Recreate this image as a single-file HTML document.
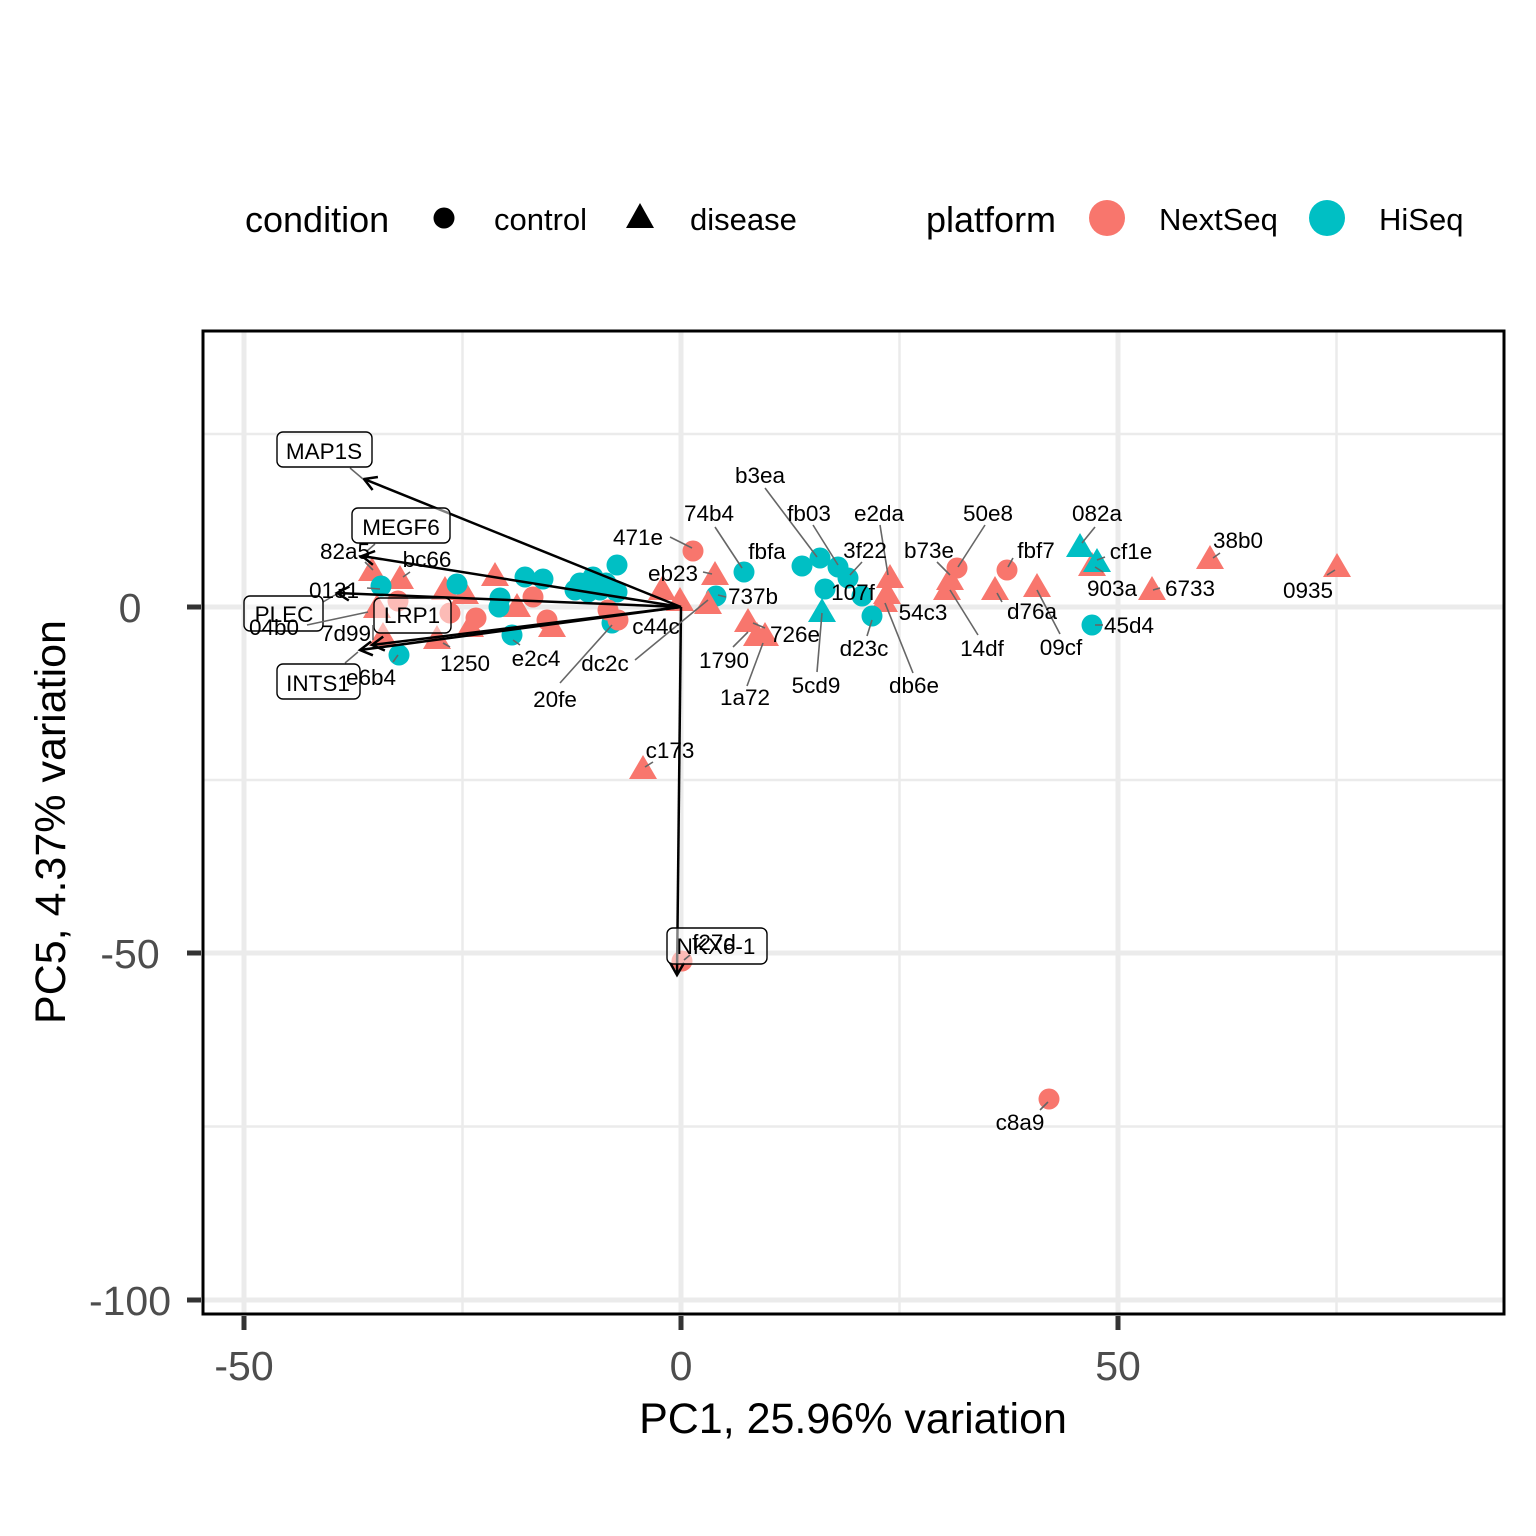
<!DOCTYPE html>
<html><head><meta charset="utf-8"><style>
html,body{margin:0;padding:0;background:#fff;}
svg{display:block;font-family:"Liberation Sans",Arial,sans-serif;}
</style></head><body>
<svg width="1536" height="1536" viewBox="0 0 1536 1536" xmlns="http://www.w3.org/2000/svg">
<rect width="1536" height="1536" fill="#fff"/>
<!-- legend -->
<g font-family="Liberation Sans, Arial, sans-serif" fill="#000">
<text x="245" y="232" font-size="36">condition</text>
<circle cx="444" cy="218" r="10.5" fill="#000"/>
<text x="494" y="230" font-size="31">control</text>
<polygon points="640,203 654,228 626,228" fill="#000"/>
<text x="690" y="230" font-size="31">disease</text>
<text x="926" y="232" font-size="36">platform</text>
<circle cx="1107" cy="218" r="18" fill="#F8766D"/>
<text x="1159" y="230" font-size="31">NextSeq</text>
<circle cx="1327" cy="218" r="18" fill="#00BFC4"/>
<text x="1379" y="230" font-size="31">HiSeq</text>
</g>
<!-- grid -->
<g stroke="#EBEBEB">
<line x1="462.5" y1="331" x2="462.5" y2="1314" stroke-width="2.5"/>
<line x1="899.5" y1="331" x2="899.5" y2="1314" stroke-width="2.5"/>
<line x1="1336.5" y1="331" x2="1336.5" y2="1314" stroke-width="2.5"/>
<line x1="203" y1="434" x2="1504" y2="434" stroke-width="2.5"/>
<line x1="203" y1="780" x2="1504" y2="780" stroke-width="2.5"/>
<line x1="203" y1="1126.5" x2="1504" y2="1126.5" stroke-width="2.5"/>
<line x1="244" y1="331" x2="244" y2="1314" stroke-width="5"/>
<line x1="681" y1="331" x2="681" y2="1314" stroke-width="5"/>
<line x1="1118" y1="331" x2="1118" y2="1314" stroke-width="5"/>
<line x1="203" y1="607" x2="1504" y2="607" stroke-width="5"/>
<line x1="203" y1="953" x2="1504" y2="953" stroke-width="5"/>
<line x1="203" y1="1300" x2="1504" y2="1300" stroke-width="5"/>
</g>
<!-- points pink -->
<g fill="#F8766D">
<polygon points="372,557 386,581 358,581"/>
<polygon points="400,565 414,589 386,589"/>
<polygon points="377,594 391,618 363,618"/>
<polygon points="383,622 397,646 369,646"/>
<polygon points="445,576 459,600 431,600"/>
<polygon points="465,580 479,604 451,604"/>
<polygon points="437,625 451,649 423,649"/>
<polygon points="470,613 484,637 456,637"/>
<polygon points="495,562 509,586 481,586"/>
<polygon points="517,593 531,617 503,617"/>
<polygon points="552,613 566,637 538,637"/>
<polygon points="662,576 676,600 648,600"/>
<polygon points="680,587 694,611 666,611"/>
<polygon points="715,561 729,585 701,585"/>
<polygon points="748,608 762,632 734,632"/>
<polygon points="757,622 771,646 743,646"/>
<polygon points="765,622 779,646 751,646"/>
<polygon points="890,564 904,588 876,588"/>
<polygon points="887,580 901,604 873,604"/>
<polygon points="884,588 898,612 870,612"/>
<polygon points="950,566 964,590 936,590"/>
<polygon points="947,576 961,600 933,600"/>
<polygon points="995,576 1009,600 981,600"/>
<polygon points="1037,573 1051,597 1023,597"/>
<polygon points="1092,552 1106,576 1078,576"/>
<polygon points="1152,576 1166,600 1138,600"/>
<polygon points="1210,545 1224,569 1196,569"/>
<polygon points="1337,553 1351,577 1323,577"/>
<polygon points="643,755 657,779 629,779"/>
<circle cx="398" cy="601" r="10.5"/>
<circle cx="450" cy="613" r="10.5"/>
<circle cx="476" cy="618" r="10.5"/>
<circle cx="533" cy="597" r="10.5"/>
<circle cx="547" cy="620" r="10.5"/>
<circle cx="693" cy="551" r="10.5"/>
<circle cx="957" cy="568" r="10.5"/>
<circle cx="1007" cy="570" r="10.5"/>
<circle cx="682" cy="961" r="10.5"/>
<circle cx="1049" cy="1099" r="10.5"/>
</g>
<!-- points teal -->
<g fill="#00BFC4">
<circle cx="381" cy="586" r="10.5"/>
<circle cx="399" cy="655" r="10.5"/>
<circle cx="457" cy="584" r="10.5"/>
<circle cx="525" cy="577" r="10.5"/>
<circle cx="543" cy="579" r="10.5"/>
<circle cx="500" cy="598" r="10.5"/>
<circle cx="499" cy="607" r="10.5"/>
<circle cx="512" cy="635" r="10.5"/>
<circle cx="617" cy="565" r="10.5"/>
<circle cx="593" cy="577" r="10.5"/>
<circle cx="580" cy="583" r="10.5"/>
<circle cx="575" cy="590" r="10.5"/>
<circle cx="588" cy="592" r="10.5"/>
<circle cx="600" cy="590" r="10.5"/>
<circle cx="617" cy="592" r="10.5"/>
<circle cx="606" cy="583" r="10.5"/>
<circle cx="612" cy="623" r="10.5"/>
<circle cx="744" cy="572" r="10.5"/>
<circle cx="716" cy="596" r="10.5"/>
<circle cx="802" cy="566" r="10.5"/>
<circle cx="820" cy="558" r="10.5"/>
<circle cx="838" cy="567" r="10.5"/>
<circle cx="848" cy="578" r="10.5"/>
<circle cx="825" cy="589" r="10.5"/>
<circle cx="862" cy="596" r="10.5"/>
<circle cx="872" cy="616" r="10.5"/>
<circle cx="1092" cy="625" r="10.5"/>
<polygon points="822,598 836,622 808,622"/>
<polygon points="1080,533 1094,557 1066,557"/>
<polygon points="1097,548 1111,572 1083,572"/>
</g>
<g fill="#F8766D">
<circle cx="608" cy="610" r="10.5"/>
<circle cx="618" cy="620" r="10.5"/>
<polygon points="708,590 722,614 694,614"/>
</g>
<!-- loadings arrows -->
<g stroke="#000" stroke-width="2.5" fill="none">
<line x1="681" y1="607" x2="364" y2="479"/>
<polyline points="372.6,490 364,479 377.9,477"/>
<line x1="681" y1="607" x2="362" y2="556"/>
<polyline points="372.9,564.8 362,556 375.1,551"/>
<line x1="681" y1="607" x2="337" y2="593"/>
<polyline points="348.8,600.5 337,593 349.4,586.5"/>
<line x1="681" y1="607" x2="372" y2="645"/>
<polyline points="384.9,650.5 372,645 383.2,636.6"/>
<line x1="681" y1="607" x2="360" y2="650"/>
<polyline points="372.9,655.3 360,650 371.1,641.5"/>
<line x1="681" y1="607" x2="677" y2="975"/>
<polyline points="684.1,962.9 677,975 670.1,962.8"/>
</g>
<!-- label boxes -->
<g stroke="#666" stroke-width="1.5">
<line x1="350" y1="468" x2="363" y2="479"/>
<line x1="375" y1="544" x2="367" y2="551"/>
<line x1="323" y1="602" x2="335" y2="595"/>
<line x1="345" y1="663" x2="358" y2="652"/>
</g>
<g stroke="#000" stroke-width="1.4" fill="#fff" fill-opacity="0.5">
<rect x="277" y="432" width="95" height="35" rx="6"/>
<rect x="352" y="508" width="98" height="35" rx="6"/>
<rect x="244" y="596" width="79" height="35" rx="6"/>
<rect x="374" y="598" width="77" height="35" rx="6"/>
<rect x="277" y="664" width="83" height="35" rx="6"/>
<rect x="667" y="928" width="100" height="36" rx="6"/>
</g>
<g font-size="22.5" text-anchor="middle" fill="#000">
<text x="324" y="459">MAP1S</text>
<text x="401" y="535">MEGF6</text>
<text x="284" y="622">PLEC</text>
<text x="412" y="623">LRP1</text>
<text x="318" y="691">INTS1</text>
<text x="716" y="954">NKX6-1</text>
</g>
<!-- point label segments -->
<g stroke="#666" stroke-width="1.6">
<line x1="765" y1="488" x2="817" y2="557"/>
<line x1="813" y1="525" x2="838" y2="565"/>
<line x1="880" y1="525" x2="888" y2="575"/>
<line x1="715" y1="527" x2="742" y2="568"/>
<line x1="670" y1="537" x2="692" y2="548"/>
<line x1="862" y1="562" x2="850" y2="575"/>
<line x1="703" y1="572" x2="712" y2="574"/>
<line x1="718" y1="595" x2="726" y2="597"/>
<line x1="913" y1="673" x2="885" y2="603"/>
<line x1="867" y1="636" x2="872" y2="620"/>
<line x1="817" y1="672" x2="822" y2="613"/>
<line x1="733" y1="647" x2="748" y2="632"/>
<line x1="747" y1="686" x2="763" y2="643"/>
<line x1="765" y1="628" x2="753" y2="623"/>
<line x1="985" y1="525" x2="958" y2="567"/>
<line x1="937" y1="562" x2="950" y2="575"/>
<line x1="978" y1="635" x2="950" y2="590"/>
<line x1="1013" y1="558" x2="1008" y2="567"/>
<line x1="1002" y1="602" x2="997" y2="593"/>
<line x1="1060" y1="634" x2="1037" y2="590"/>
<line x1="1095" y1="527" x2="1082" y2="543"/>
<line x1="1105" y1="557" x2="1097" y2="560"/>
<line x1="1103" y1="572" x2="1095" y2="567"/>
<line x1="1160" y1="588" x2="1153" y2="590"/>
<line x1="1220" y1="553" x2="1213" y2="558"/>
<line x1="1335" y1="570" x2="1327" y2="575"/>
<line x1="1103" y1="625" x2="1095" y2="625"/>
<line x1="365" y1="562" x2="373" y2="570"/>
<line x1="410" y1="572" x2="403" y2="577"/>
<line x1="367" y1="588" x2="380" y2="589"/>
<line x1="307" y1="625" x2="368" y2="612"/>
<line x1="373" y1="625" x2="373" y2="640"/>
<line x1="393" y1="662" x2="398" y2="655"/>
<line x1="443" y1="643" x2="450" y2="647"/>
<line x1="513" y1="640" x2="520" y2="645"/>
<line x1="560" y1="683" x2="612" y2="625"/>
<line x1="635" y1="660" x2="708" y2="600"/>
<line x1="645" y1="767" x2="653" y2="762"/>
<line x1="690" y1="955" x2="684" y2="960"/>
<line x1="1040" y1="1110" x2="1048" y2="1102"/>
</g>
<!-- point labels -->
<g font-size="22.5" text-anchor="middle" fill="#000">
<text x="760" y="483">b3ea</text>
<text x="709" y="521">74b4</text>
<text x="809" y="521">fb03</text>
<text x="879" y="521">e2da</text>
<text x="988" y="521">50e8</text>
<text x="1097" y="521">082a</text>
<text x="638" y="545">471e</text>
<text x="767" y="559">fbfa</text>
<text x="865" y="558">3f22</text>
<text x="929" y="558">b73e</text>
<text x="1036" y="558">fbf7</text>
<text x="1131" y="559">cf1e</text>
<text x="1238" y="548">38b0</text>
<text x="345" y="559">82a5</text>
<text x="427" y="567">bc66</text>
<text x="673" y="581">eb23</text>
<text x="334" y="598">0131</text>
<text x="753" y="604">737b</text>
<text x="853" y="600">107f</text>
<text x="1112" y="596">903a</text>
<text x="1190" y="596">6733</text>
<text x="1308" y="598">0935</text>
<text x="923" y="620">54c3</text>
<text x="1032" y="619">d76a</text>
<text x="274" y="635">04b0</text>
<text x="346" y="641">7d99</text>
<text x="656" y="634">c44c</text>
<text x="795" y="642">726e</text>
<text x="1129" y="633">45d4</text>
<text x="724" y="668">1790</text>
<text x="465" y="671">1250</text>
<text x="536" y="666">e2c4</text>
<text x="605" y="671">dc2c</text>
<text x="864" y="656">d23c</text>
<text x="982" y="656">14df</text>
<text x="1061" y="655">09cf</text>
<text x="371" y="685">e6b4</text>
<text x="816" y="693">5cd9</text>
<text x="914" y="693">db6e</text>
<text x="745" y="705">1a72</text>
<text x="555" y="707">20fe</text>
<text x="670" y="758">c173</text>
<text x="714" y="950">f27d</text>
<text x="1020" y="1130">c8a9</text>
</g>
<!-- panel border -->
<rect x="203" y="331" width="1301" height="983" fill="none" stroke="#000" stroke-width="3"/>
<!-- ticks -->
<g stroke="#333" stroke-width="5">
<line x1="244" y1="1316" x2="244" y2="1330"/>
<line x1="681" y1="1316" x2="681" y2="1330"/>
<line x1="1118" y1="1316" x2="1118" y2="1330"/>
<line x1="187" y1="607" x2="201" y2="607"/>
<line x1="187" y1="953" x2="201" y2="953"/>
<line x1="187" y1="1300" x2="201" y2="1300"/>
</g>
<g font-size="41" fill="#4D4D4D" text-anchor="middle">
<text x="244" y="1380">-50</text>
<text x="681" y="1380">0</text>
<text x="1118" y="1380">50</text>
<text x="130" y="622">0</text>
<text x="130" y="968">-50</text>
<text x="130" y="1315">-100</text>
</g>
<text x="853" y="1433" font-size="43" text-anchor="middle" fill="#000">PC1, 25.96% variation</text>
<text transform="translate(65,822) rotate(-90)" font-size="43" text-anchor="middle" fill="#000">PC5, 4.37% variation</text>
</svg>
</body></html>
